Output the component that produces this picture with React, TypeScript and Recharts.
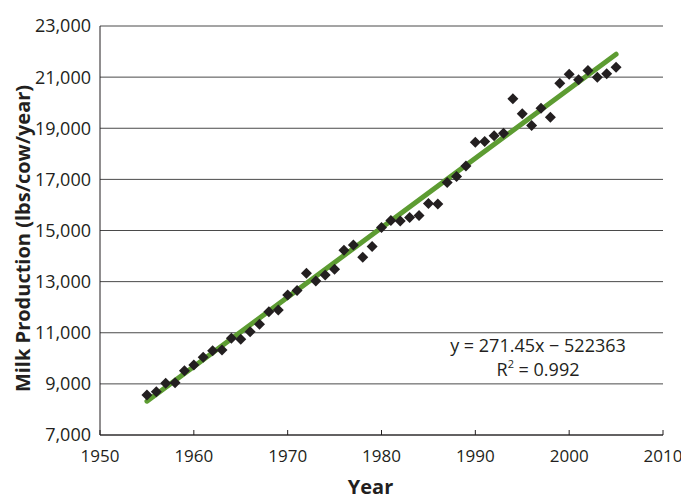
import { ScatterChart, Scatter, XAxis, YAxis, CartesianGrid } from 'recharts';

// annual milk production per cow
const years = [
  1955, 1956, 1957, 1958, 1959, 1960, 1961, 1962, 1963, 1964,
  1965, 1966, 1967, 1968, 1969, 1970, 1971, 1972, 1973, 1974,
  1975, 1976, 1977, 1978, 1979, 1980, 1981, 1982, 1983, 1984,
  1985, 1986, 1987, 1988, 1989, 1990, 1991, 1992, 1993, 1994,
  1995, 1996, 1997, 1998, 1999, 2000, 2001, 2002, 2003, 2004, 2005,
];
const milk = [
  8565, 8695, 9023, 9047, 9517, 9740, 10041, 10300, 10327, 10785,
  10745, 11043, 11333, 11826, 11892, 12479, 12648, 13329, 13027, 13262,
  13485, 14230, 14436, 13955, 14370, 15114, 15387, 15376, 15505, 15583,
  16060, 16041, 16875, 17110, 17528, 18456, 18479, 18703, 18808, 20151,
  19564, 19110, 19787, 19434, 20765, 21117, 20894, 21258, 21000, 21129, 21391,
];

const yearTicks = [1950, 1960, 1970, 1980, 1990, 2000, 2010];
const milkTicks = [7000, 9000, 11000, 13000, 15000, 17000, 19000, 21000, 23000];

// linear fit shown on the chart
const slope = 271.45;
const intercept = -522363;
const fitYears = [1955, 2005];

const points = years.map((year, i) => ({ year, milk: milk[i] }));
const fitLine = fitYears.map((year) => ({ year, milk: slope * year + intercept }));

const ink = '#231f20';
const green = '#5d9c32';
const font = '"Open Sans", "Noto Sans", sans-serif';

function Diamond({ cx, cy }: { cx?: number; cy?: number }) {
  if (cx == null || cy == null) return <g />;
  const r = 5.5;
  return (
    <polygon
      points={`${cx},${cy - r} ${cx + r},${cy} ${cx},${cy + r} ${cx - r},${cy}`}
      fill={ink}
    />
  );
}

export default function App() {
  return (
    <div style={{ position: 'absolute', left: 0, top: 0, background: '#fff' }}>
      <ScatterChart
        width={681}
        height={500}
        margin={{ top: 26, right: 18, left: 0, bottom: 0 }}
        style={{ fontFamily: font }}
      >
        <CartesianGrid vertical={false} stroke="#4a4a4a" strokeWidth={1} />
        <XAxis
          type="number"
          dataKey="year"
          domain={[1950, 2010]}
          ticks={yearTicks}
          height={65}
          stroke={ink}
          tickSize={-5}
          tickMargin={20}
          tick={{ fill: ink, fontSize: 17 }}
          label={{ value: 'Year', position: 'insideBottom', offset: 6, dx: -11, fill: ink, fontSize: 20, fontWeight: 700 }}
        />
        <YAxis
          type="number"
          dataKey="milk"
          domain={[7000, 23000]}
          ticks={milkTicks}
          width={100}
          stroke={ink}
          tickLine={false}
          tickSize={0}
          tickMargin={9}
          tickFormatter={(v: number) => v.toLocaleString('en-US')}
          tick={{ fill: ink, fontSize: 18 }}
          label={{
            value: 'Milk Production (lbs/cow/year)',
            angle: -90,
            position: 'center',
            dx: -27,
            dy: 8,
            fill: ink,
            fontSize: 20,
            fontWeight: 700,
          }}
        />
        <Scatter
          data={fitLine}
          line={{ stroke: green, strokeWidth: 5, strokeLinecap: 'round' }}
          shape={() => <g />}
          isAnimationActive={false}
        />
        <Scatter data={points} shape={<Diamond />} isAnimationActive={false} />
        <text x={538} y={352} textAnchor="middle" fill={ink} fontSize={18} fontFamily={font}>
          y = 271.45x − 522363
        </text>
        <text x={538} y={376} textAnchor="middle" fill={ink} fontSize={18} fontFamily={font}>
          R<tspan dy={-8} fontSize={11}>2</tspan>
          <tspan dy={8}> = 0.992</tspan>
        </text>
      </ScatterChart>
    </div>
  );
}
